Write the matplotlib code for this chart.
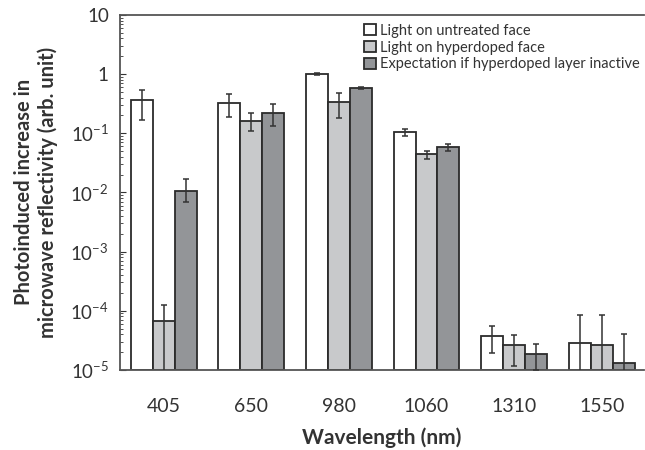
import numpy as np
import matplotlib
matplotlib.use("Agg")
import matplotlib.pyplot as plt
from matplotlib.ticker import FixedLocator, FixedFormatter, LogLocator, NullFormatter

plt.rcParams['font.family'] = ['Lato', 'DejaVu Sans']
plt.rcParams['mathtext.default'] = 'regular'

wavelengths = ['405', '650', '980', '1060', '1310', '1550']
series_names = ['Light on untreated face', 'Light on hyperdoped face',
                'Expectation if hyperdoped layer inactive']

untreated = [0.36, 0.32, 1.0, 0.104, 3.8e-5, 2.8e-5]
untreated_lo = [0.17, 0.19, 0.97, 0.088, 1.96e-5, 1e-6]
untreated_hi = [0.53, 0.46, 1.03, 0.118, 5.6e-5, 8.5e-5]

hyperdoped = [6.6e-5, 0.16, 0.34, 0.044, 2.6e-5, 2.65e-5]
hyperdoped_lo = [1e-6, 0.11, 0.18, 0.036, 1.17e-5, 1e-6]
hyperdoped_hi = [1.26e-4, 0.22, 0.48, 0.05, 3.9e-5, 8.5e-5]

inactive = [0.0107, 0.22, 0.58, 0.059, 1.86e-5, 1.3e-5]
inactive_lo = [0.0068, 0.13, 0.565, 0.05, 1.0e-5, 1e-6]
inactive_hi = [0.0166, 0.31, 0.595, 0.066, 2.76e-5, 4.1e-5]

colors = ['#ffffff', '#c8c9cb', '#939598']
edge = '#2b2b2b'
text_c = '#333333'
floor = 1e-5

fig = plt.figure(figsize=(6.45, 4.5), dpi=100)
ax = fig.add_axes([0.186, 0.178, 0.812, 0.789])

x = np.arange(len(wavelengths))
w = 0.25
data = [(untreated, untreated_lo, untreated_hi),
        (hyperdoped, hyperdoped_lo, hyperdoped_hi),
        (inactive, inactive_lo, inactive_hi)]
for i, (vals, lo, hi) in enumerate(data):
    vals = np.array(vals)
    yerr = [vals - np.array(lo), np.array(hi) - vals]
    pos = x + (i - 1) * w
    ax.bar(pos, vals - floor, width=w, bottom=floor, color=colors[i], edgecolor=edge,
           linewidth=1.3, label=series_names[i], zorder=2)
    ax.errorbar(pos, vals, yerr=yerr, fmt='none', ecolor='#333333',
                elinewidth=1.1, capsize=2.5, capthick=1.1, zorder=3)

ax.set_yscale('log')
ax.set_ylim(floor, 10)
ax.set_xlim(-0.5, 5.48)

yt = [1e-5, 1e-4, 1e-3, 1e-2, 1e-1, 1, 10]
ylabels = ['$10^{-5}$', '$10^{-4}$', '$10^{-3}$', '$10^{-2}$', '$10^{-1}$', '1', '10']
ax.yaxis.set_major_locator(FixedLocator(yt))
ax.yaxis.set_major_formatter(FixedFormatter(ylabels))
ax.yaxis.set_minor_locator(LogLocator(base=10, subs=np.arange(2, 10)))
ax.yaxis.set_minor_formatter(NullFormatter())
ax.tick_params(axis='y', which='major', direction='in', length=4, width=0.8,
               labelsize=13.5, colors=text_c, pad=8)
ax.tick_params(axis='y', which='minor', direction='in', length=2, width=0.6, color=text_c)

ax.set_xticks(x)
ax.set_xticklabels(wavelengths)
ax.tick_params(axis='x', length=0, labelsize=14, colors=text_c, pad=20)

for s in ['left', 'bottom', 'top']:
    ax.spines[s].set_color('#555555')
    ax.spines[s].set_linewidth(1.3)
ax.spines['right'].set_visible(False)

ax.set_xlabel('Wavelength (nm)', fontsize=15, fontweight='bold', color=text_c, labelpad=9)
ax.set_ylabel('Photoinduced increase in\nmicrowave reflectivity (arb. unit)',
              fontsize=14.5, fontweight='bold', color=text_c, labelpad=9)

leg = ax.legend(loc='upper right', bbox_to_anchor=(1.01, 1.0), frameon=False,
                fontsize=10.5, handlelength=0.8, handleheight=0.8,
                handletextpad=0.3, labelspacing=0.2, borderaxespad=0.2)
for t in leg.get_texts():
    t.set_color(text_c)

fig.savefig('out.png', dpi=100)
